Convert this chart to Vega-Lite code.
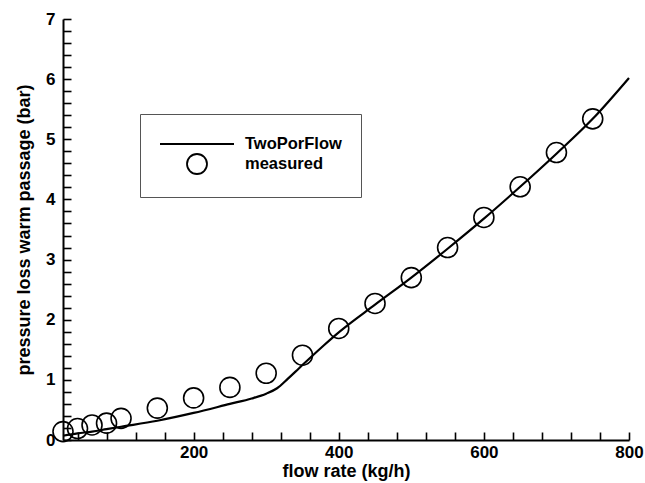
{
  "$schema": "https://vega.github.io/schema/vega-lite/v6.json",
  "width": 566,
  "height": 421,
  "autosize": "none",
  "padding": {"left": 63, "top": 19, "right": 16, "bottom": 43},
  "background": "white",
  "config": {"view": {"stroke": null}, "font": "Liberation Sans"},
  "datasets": {
    "model": [
      {"flow": 20, "dp": 0.07}, {"flow": 40, "dp": 0.11}, {"flow": 60, "dp": 0.14}, {"flow": 80, "dp": 0.18},
      {"flow": 100, "dp": 0.22}, {"flow": 150, "dp": 0.32}, {"flow": 200, "dp": 0.45}, {"flow": 250, "dp": 0.60},
      {"flow": 280, "dp": 0.69}, {"flow": 300, "dp": 0.77}, {"flow": 315, "dp": 0.86}, {"flow": 330, "dp": 1.02},
      {"flow": 345, "dp": 1.19}, {"flow": 360, "dp": 1.36}, {"flow": 380, "dp": 1.58}, {"flow": 400, "dp": 1.79},
      {"flow": 450, "dp": 2.25}, {"flow": 500, "dp": 2.70}, {"flow": 550, "dp": 3.18}, {"flow": 600, "dp": 3.68},
      {"flow": 650, "dp": 4.21}, {"flow": 700, "dp": 4.76}, {"flow": 750, "dp": 5.34}, {"flow": 800, "dp": 6.02}
    ],
    "measured": [
      {"flow": 20, "dp": 0.14, "series": "measured"}, {"flow": 40, "dp": 0.19, "series": "measured"},
      {"flow": 60, "dp": 0.25, "series": "measured"}, {"flow": 80, "dp": 0.28, "series": "measured"},
      {"flow": 100, "dp": 0.36, "series": "measured"}, {"flow": 150, "dp": 0.53, "series": "measured"},
      {"flow": 200, "dp": 0.70, "series": "measured"}, {"flow": 250, "dp": 0.875, "series": "measured"},
      {"flow": 300, "dp": 1.11, "series": "measured"}, {"flow": 350, "dp": 1.41, "series": "measured"},
      {"flow": 400, "dp": 1.855, "series": "measured"}, {"flow": 450, "dp": 2.27, "series": "measured"},
      {"flow": 500, "dp": 2.70, "series": "measured"}, {"flow": 550, "dp": 3.20, "series": "measured"},
      {"flow": 600, "dp": 3.70, "series": "measured"}, {"flow": 650, "dp": 4.21, "series": "measured"},
      {"flow": 700, "dp": 4.78, "series": "measured"}, {"flow": 750, "dp": 5.34, "series": "measured"}
    ]
  },
  "layer": [
    {
      "data": {"name": "model"},
      "mark": {"type": "line", "color": "black", "strokeWidth": 2.2, "interpolate": "monotone"},
      "encoding": {
        "x": {"field": "flow", "type": "quantitative",
          "scale": {"domain": [20, 800], "nice": false, "zero": false},
          "axis": {"orient": "bottom", "tickCount": 100, "tickMinStep": 1,
            "values": [40, 80, 120, 160, 200, 240, 280, 320, 360, 400, 440, 480, 520, 560, 600, 640, 680, 720, 760, 800],
            "labelExpr": "datum.value % 200 === 0 ? format(datum.value, 'd') : ''",
            "labelOverlap": false, "grid": false,
            "ticks": true, "tickSize": -8, "tickWidth": 1.6, "tickColor": "black",
            "domain": true, "domainColor": "black", "domainWidth": 2,
            "labelFont": "Liberation Sans", "labelFontWeight": "bold",
            "labelFontSize": 17, "labelColor": "black", "labelPadding": 12, "labelFlush": false,
            "title": "flow rate (kg/h)", "titleFont": "Liberation Sans", "titleFontSize": 18,
            "titleFontWeight": "bold", "titleColor": "black", "titlePadding": 2}},
        "y": {"field": "dp", "type": "quantitative",
          "scale": {"domain": [0, 7], "nice": false, "zero": false},
          "axis": {"orient": "left", "tickCount": 100, "tickMinStep": 0.1,
            "values": [0, 0.2, 0.4, 0.6, 0.8, 1, 1.2, 1.4, 1.6, 1.8, 2, 2.2, 2.4, 2.6, 2.8, 3, 3.2, 3.4, 3.6, 3.8, 4, 4.2, 4.4, 4.6, 4.8, 5, 5.2, 5.4, 5.6, 5.8, 6, 6.2, 6.4, 6.6, 6.8, 7],
            "labelExpr": "abs(datum.value - round(datum.value)) < 0.001 ? format(datum.value, 'd') : ''",
            "labelOverlap": false, "grid": false,
            "ticks": true, "tickSize": -8, "tickWidth": 1.6, "tickColor": "black",
            "domain": true, "domainColor": "black", "domainWidth": 2,
            "labelFont": "Liberation Sans", "labelFontWeight": "bold",
            "labelFontSize": 17, "labelColor": "black", "labelPadding": 16, "labelFlush": false,
            "title": "pressure loss warm passage (bar)", "titleFont": "Liberation Sans", "titleFontSize": 18,
            "titleFontWeight": "bold", "titleColor": "black", "titlePadding": 12}}
      }
    },
    {
      "data": {"name": "measured"},
      "mark": {"type": "point", "shape": "circle", "filled": false, "color": "black", "strokeWidth": 1.6, "size": 400, "opacity": 1},
      "encoding": {
        "x": {"field": "flow", "type": "quantitative"},
        "y": {"field": "dp", "type": "quantitative"},
        "shape": {"field": "series", "type": "nominal",
          "scale": {"domain": ["TwoPorFlow", "measured"],
            "range": ["M-3.7,0L3.7,0", "circle"]},
          "legend": {"orient": "none", "legendX": 77, "legendY": 95, "title": null,
            "padding": 19, "strokeColor": "#555555", "fillColor": "white", "cornerRadius": 0,
            "symbolSize": 400, "symbolStrokeColor": "black", "symbolFillColor": "transparent",
            "symbolStrokeWidth": 1.8, "symbolOpacity": 1, "symbolOffset": 27,
            "labelFont": "Liberation Sans", "labelFontWeight": "bold", "labelFontSize": 16.5,
            "labelColor": "black", "labelOffset": 37, "labelLimit": 0, "rowPadding": -4}}
      }
    }
  ]
}
